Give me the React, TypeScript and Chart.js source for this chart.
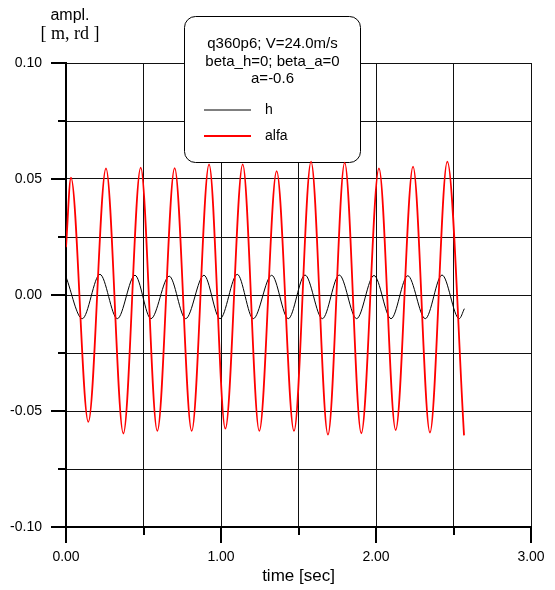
import React, { useEffect, useRef } from 'react';
import { Chart, registerables } from 'chart.js';

Chart.register(...registerables);

// ---- data ----
const hTime = [0, 0.105, 0.219, 0.331, 0.445, 0.548, 0.666, 0.772, 0.89, 0.994, 1.105, 1.208, 1.327, 1.434, 1.542, 1.654, 1.763, 1.875, 1.987, 2.097, 2.205, 2.318, 2.426, 2.537, 2.57];
const hValue = [0.0078, -0.0102, 0.0089, -0.0102, 0.0085, -0.0102, 0.0081, -0.0102, 0.0085, -0.0102, 0.0089, -0.0102, 0.0085, -0.0102, 0.0086, -0.0102, 0.0086, -0.0102, 0.0084, -0.0102, 0.0083, -0.0102, 0.0086, -0.0102, -0.0059];

const alfaTime = [0, 0.032, 0.144, 0.258, 0.37, 0.482, 0.589, 0.701, 0.811, 0.923, 1.028, 1.14, 1.247, 1.359, 1.471, 1.581, 1.69, 1.798, 1.905, 2.019, 2.127, 2.239, 2.348, 2.46, 2.568];
const alfaValue = [0.0206, 0.0506, -0.0547, 0.0546, -0.0597, 0.0549, -0.0586, 0.0547, -0.0586, 0.0563, -0.0576, 0.0563, -0.0586, 0.0534, -0.0586, 0.0575, -0.0602, 0.0571, -0.0596, 0.0546, -0.0582, 0.0553, -0.0593, 0.0575, -0.0605];

const seriesLabels = ['h', 'alfa'];
const seriesColors = ['#000000', '#ff0000'];
const legendTitle = ['q360p6; V=24.0m/s', 'beta_h=0; beta_a=0', 'a=-0.6'];
const yTitleLines = ['ampl.', '[ m, rd ]'];
const xTitle = 'time [sec]';
const xMin = 0, xMax = 3, xStep = 0.5, xLabelEvery = 1;
const yMin = -0.1, yMax = 0.1, yStep = 0.025, yLabelEvery = 0.05;

const SANS = '"Liberation Sans", Arial, Helvetica, sans-serif';
const SERIF = '"Liberation Serif", "Times New Roman", serif';

const isMultiple = (v: number, step: number) => {
  const r = v / step;
  return Math.abs(r - Math.round(r)) < 1e-6;
};

const decorPlugin = {
  id: 'decor',
  beforeDatasetsDraw(chart: any) {
    const ctx = chart.ctx as CanvasRenderingContext2D;
    ctx.save();
    // legend box
    const bx = 184.5, by = 16.5, bw = 176, bh = 146, r = 11;
    ctx.beginPath();
    (ctx as any).roundRect(bx, by, bw, bh, r);
    ctx.fillStyle = '#ffffff';
    ctx.fill();
    ctx.strokeStyle = '#000000';
    ctx.lineWidth = 1;
    ctx.stroke();
    const cx = bx + bw / 2;
    ctx.fillStyle = '#000000';
    ctx.font = `15px ${SANS}`;
    ctx.textAlign = 'center';
    ctx.textBaseline = 'middle';
    const ly = [44, 62, 79];
    legendTitle.forEach((t, i) => ctx.fillText(t, cx, ly[i]));
    // legend items from datasets
    const itemY = [110, 136];
    ctx.font = `14px ${SANS}`;
    ctx.textAlign = 'left';
    chart.data.datasets.forEach((ds: any, i: number) => {
      const yy = itemY[i];
      ctx.beginPath();
      ctx.strokeStyle = ds.borderColor;
      ctx.lineWidth = ds.borderWidth;
      ctx.moveTo(204, yy);
      ctx.lineTo(251, yy);
      ctx.stroke();
      ctx.fillStyle = '#000000';
      ctx.fillText(ds.label, 265, yy);
    });
    ctx.restore();
  },
  afterDraw(chart: any) {
    const ctx = chart.ctx as CanvasRenderingContext2D;
    const { chartArea } = chart;
    const xs = chart.scales.x;
    const ys = chart.scales.y;
    ctx.save();
    ctx.strokeStyle = '#000000';
    ctx.lineWidth = 2;
    xs.ticks.forEach((t: any) => {
      const px = Math.round(xs.getPixelForValue(t.value));
      const len = isMultiple(t.value, xLabelEvery) ? 16 : 8;
      ctx.beginPath();
      ctx.moveTo(px, chartArea.bottom);
      ctx.lineTo(px, chartArea.bottom + len);
      ctx.stroke();
    });
    ys.ticks.forEach((t: any) => {
      const py = Math.round(ys.getPixelForValue(t.value));
      const len = isMultiple(t.value, yLabelEvery) ? 15 : 8;
      ctx.beginPath();
      ctx.moveTo(chartArea.left, py);
      ctx.lineTo(chartArea.left - len, py);
      ctx.stroke();
    });
    // y axis title (horizontal, above the axis)
    ctx.fillStyle = '#000000';
    ctx.textAlign = 'center';
    ctx.textBaseline = 'middle';
    ctx.font = `16px ${SANS}`;
    ctx.fillText(yTitleLines[0], 70, 16);
    ctx.font = `18px ${SERIF}`;
    ctx.fillText(yTitleLines[1], 70, 34);
    ctx.restore();
  },
};

export default function App() {
  const ref = useRef<HTMLCanvasElement | null>(null);
  useEffect(() => {
    if (!ref.current) return;
    const chart = new Chart(ref.current, {
      type: 'line',
      data: {
        datasets: [
          {
            label: seriesLabels[0],
            data: hTime.map((t, i) => ({ x: t, y: hValue[i] })),
            borderColor: seriesColors[0],
            borderWidth: 1,
            pointRadius: 0,
            cubicInterpolationMode: 'monotone',
            fill: false,
            order: 2,
          },
          {
            label: seriesLabels[1],
            data: alfaTime.map((t, i) => ({ x: t, y: alfaValue[i] })),
            borderColor: seriesColors[1],
            borderWidth: 1.8,
            pointRadius: 0,
            cubicInterpolationMode: 'monotone',
            fill: false,
            order: 1,
          },
        ],
      },
      options: {
        animation: false,
        responsive: false,
        devicePixelRatio: 1,
        layout: { padding: { top: 63, right: 24, left: 0, bottom: 0 } },
        plugins: { legend: { display: false }, tooltip: { enabled: false }, title: { display: false } },
        scales: {
          x: {
            type: 'linear',
            min: xMin,
            max: xMax,
            afterFit: (s: any) => { s.height = 63; },
            grid: { color: '#111111', lineWidth: 1, drawTicks: true, tickLength: 18, tickColor: 'rgba(0,0,0,0)' },
            border: { display: true, color: '#000000', width: 2 },
            ticks: {
              stepSize: xStep,
              autoSkip: false,
              maxRotation: 0,
              padding: 4,
              color: '#000000',
              font: { family: SANS, size: 14 },
              callback: (v: any) => (isMultiple(Number(v), xLabelEvery) ? Number(v).toFixed(2) : ''),
            },
            title: { display: true, text: xTitle, color: '#000000', font: { family: SANS, size: 17 }, padding: { top: 0, bottom: 3 } },
          },
          y: {
            type: 'linear',
            min: yMin,
            max: yMax,
            afterFit: (s: any) => { s.width = 66; },
            grid: { color: '#111111', lineWidth: 1, drawTicks: true, tickLength: 20, tickColor: 'rgba(0,0,0,0)' },
            border: { display: true, color: '#000000', width: 2 },
            ticks: {
              stepSize: yStep,
              autoSkip: false,
              padding: 4,
              color: '#000000',
              font: { family: SANS, size: 14 },
              callback: (v: any) => {
                const n = Number(v);
                if (!isMultiple(n, yLabelEvery)) return '';
                const r = Math.round(n * 1000) / 1000;
                return (r === 0 ? 0 : r).toFixed(2);
              },
            },
          },
        },
      } as any,
      plugins: [decorPlugin as any],
    });
    return () => chart.destroy();
  }, []);
  return (
    <div style={{ position: 'absolute', left: 0, top: 0, width: 555, height: 590, background: '#fff' }}>
      <canvas ref={ref} width={555} height={590} style={{ display: 'block' }} />
    </div>
  );
}
